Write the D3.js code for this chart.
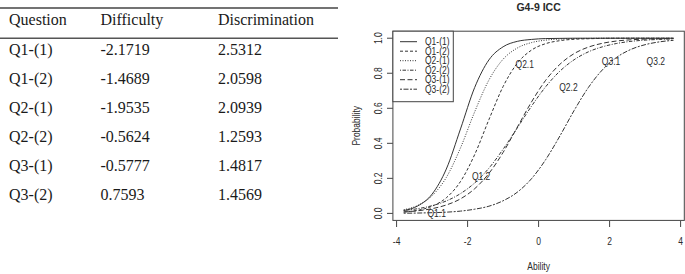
<!DOCTYPE html>
<html>
<head>
<meta charset="utf-8">
<script src="https://cdn.jsdelivr.net/npm/d3@7"></script>
<style>
  body { margin: 0; background: #fff; }
  svg { display: block; }
  .tbl text { font-family: "Liberation Serif", "Times New Roman", serif; font-size: 16px; fill: #1a1a1a; }
  .plot text { font-family: "Liberation Sans", Arial, sans-serif; fill: #2a2a2a; }
</style>
</head>
<body>
<svg id="chart" width="685" height="274"></svg>
<script>
// table values
const questions = ["Q1-(1)", "Q1-(2)", "Q2-(1)", "Q2-(2)", "Q3-(1)", "Q3-(2)"];
const difficulty = [-2.1719, -1.4689, -1.9535, -0.5624, -0.5777, 0.7593];
const discrimination = [2.5312, 2.0598, 2.0939, 1.2593, 1.4817, 1.4569];

// ICC curves
const ability = [-3.8, -3.4, -3.0, -2.6, -2.2, -1.8, -1.4, -1.0, -0.6, -0.2,
                 0.2, 0.6, 1.0, 1.4, 1.8, 2.2, 2.6, 3.0, 3.4, 3.8];
const probQ11 = [0.016, 0.043, 0.110, 0.253, 0.482, 0.719, 0.876, 0.951, 0.982, 0.993,
                 0.998, 0.999, 1.000, 1.000, 1.000, 1.000, 1.000, 1.000, 1.000, 1.000];
const probQ12 = [0.008, 0.018, 0.041, 0.089, 0.182, 0.336, 0.535, 0.724, 0.857, 0.932,
                 0.969, 0.986, 0.994, 0.997, 0.999, 1.000, 1.000, 1.000, 1.000, 1.000];
const probQ21 = [0.021, 0.046, 0.101, 0.205, 0.374, 0.580, 0.761, 0.880, 0.944, 0.975,
                 0.989, 0.995, 0.998, 0.999, 1.000, 1.000, 1.000, 1.000, 1.000, 1.000];
const probQ22 = [0.017, 0.027, 0.044, 0.071, 0.113, 0.174, 0.258, 0.366, 0.488, 0.612,
                 0.723, 0.812, 0.877, 0.922, 0.951, 0.970, 0.982, 0.989, 0.993, 0.996];
const probQ31 = [0.008, 0.015, 0.027, 0.048, 0.083, 0.141, 0.228, 0.348, 0.492, 0.636,
                 0.760, 0.851, 0.912, 0.949, 0.971, 0.984, 0.991, 0.995, 0.997, 0.998];
const probQ32 = [0.001, 0.002, 0.004, 0.007, 0.013, 0.024, 0.041, 0.072, 0.121, 0.198,
                 0.307, 0.442, 0.587, 0.718, 0.820, 0.891, 0.936, 0.963, 0.979, 0.988];

// curve labels placed on the plot (ability, probability)
const labelNames = ["Q1.1", "Q1.2", "Q2.1", "Q2.2", "Q3.1", "Q3.2"];
const labelAbility = [-2.87, -1.62, -0.39, 0.84, 2.04, 3.30];
const labelProb = [0.00, 0.21, 0.85, 0.72, 0.87, 0.87];

const xTicks = [-4, -2, 0, 2, 4];
const yTicks = [0, 0.2, 0.4, 0.6, 0.8, 1.0];

const svg = d3.select("#chart");

// ---- table ----
const tbl = svg.append("g").attr("class", "tbl");
const colX = [9, 100.5, 218];

tbl.append("line").attr("x1", 0).attr("x2", 338).attr("y1", 8).attr("y2", 8)
    .attr("stroke", "#444").attr("stroke-width", 1.6);
tbl.append("line").attr("x1", 0).attr("x2", 338).attr("y1", 38.3).attr("y2", 38.3)
    .attr("stroke", "#555").attr("stroke-width", 1.6);

["Question", "Difficulty", "Discrimination"].forEach((h, i) => {
    tbl.append("text").attr("x", colX[i]).attr("y", 24.5).text(h);
});

const rowY = d3.scaleLinear().domain([0, 5]).range([55, 199.5]);
const rows = tbl.selectAll(".row")
    .data(questions.map((q, i) => ({ q, b: difficulty[i], a: discrimination[i] })))
    .enter().append("g")
    .attr("class", "row")
    .attr("transform", (d, i) => `translate(0, ${rowY(i)})`);
rows.append("text").attr("x", colX[0]).text(d => d.q);
rows.append("text").attr("x", colX[1]).text(d => String(d.b));
rows.append("text").attr("x", colX[2]).text(d => String(d.a));

// ---- ICC plot ----
const plot = svg.append("g").attr("class", "plot");
// R style ranges: data range padded by 4%
const x = d3.scaleLinear().domain([-4.104, 4.104]).range([392.9, 684.3]);
const y = d3.scaleLinear().domain([-0.04, 1.04]).range([220.4, 31.2]);

const squeeze = 0.85;
function label(g, tx, ty, txt, size, rot) {
    return g.append("text")
        .attr("transform", `translate(${tx},${ty})${rot ? " rotate(-90)" : ""} scale(${squeeze},1)`)
        .attr("text-anchor", "middle")
        .style("font-size", size + "px")
        .text(txt);
}

plot.append("text")
    .attr("x", 538.6).attr("y", 10.5)
    .attr("text-anchor", "middle")
    .style("font-size", "10.5px").style("font-weight", "bold")
    .text("G4-9 ICC");

const series = [probQ11, probQ12, probQ21, probQ22, probQ31, probQ32];
const dashes = [null, "3,2", "1,1.5", "1,1.5,3.5,1.5", "5,2.5", "2,1.5,5,1.5"];

const line = d3.line()
    .x((d, i) => x(ability[i]))
    .y(d => y(d))
    .curve(d3.curveMonotoneX);

plot.selectAll(".icc")
    .data(series)
    .enter().append("path")
    .attr("class", "icc")
    .attr("d", line)
    .attr("fill", "none")
    .attr("stroke", "#333")
    .attr("stroke-width", 1)
    .attr("stroke-dasharray", (d, i) => dashes[i]);

// curve labels
labelNames.forEach((n, i) => {
    label(plot, x(labelAbility[i]), y(labelProb[i]) + 3.6, n, 10);
});

// box
plot.append("rect")
    .attr("x", x.range()[0]).attr("y", y.range()[1])
    .attr("width", x.range()[1] - x.range()[0])
    .attr("height", y.range()[0] - y.range()[1])
    .attr("fill", "none").attr("stroke", "#444").attr("stroke-width", 1);

// x axis
const xAxis = plot.append("g");
xAxis.selectAll("line").data(xTicks).enter().append("line")
    .attr("x1", d => x(d)).attr("x2", d => x(d))
    .attr("y1", 221).attr("y2", 227)
    .attr("stroke", "#444");
xTicks.forEach(t => label(xAxis, x(t), 245, String(t), 10));
label(plot, x(0), 270, "Ability", 10);

// y axis
const yAxis = plot.append("g");
yAxis.selectAll("line").data(yTicks).enter().append("line")
    .attr("x1", 387).attr("x2", 392.9)
    .attr("y1", d => y(d)).attr("y2", d => y(d))
    .attr("stroke", "#444");
yTicks.forEach(t => label(yAxis, 382, y(t), d3.format(".1f")(t), 10, true));
label(plot, 360, (y(0) + y(1)) / 2, "Probability", 10, true);

// legend
const leg = plot.append("g");
leg.append("rect")
    .attr("x", x.range()[0]).attr("y", y.range()[1])
    .attr("width", 60.4).attr("height", 70.5)
    .attr("fill", "#fff").attr("stroke", "#444").attr("stroke-width", 1);
questions.forEach((q, i) => {
    const ly = 41.7 + i * 9.5;
    leg.append("line")
        .attr("x1", 400).attr("x2", 417).attr("y1", ly).attr("y2", ly)
        .attr("stroke", "#333").attr("stroke-dasharray", dashes[i]);
    leg.append("text")
        .attr("transform", `translate(425,${ly + 3.4}) scale(${squeeze},1)`)
        .style("font-size", "10px")
        .text(q);
});
</script>
</body>
</html>
